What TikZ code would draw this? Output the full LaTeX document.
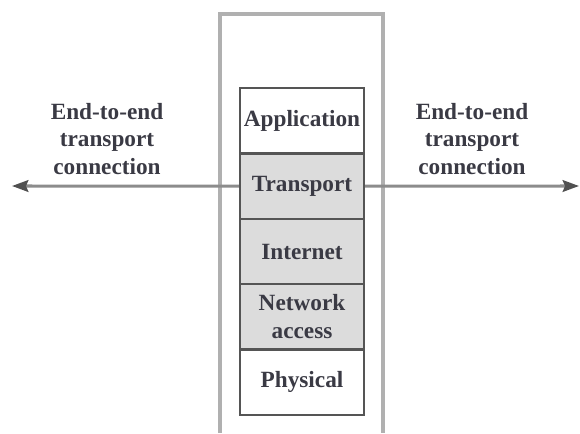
\documentclass[tikz,border=0pt]{standalone}
\usepackage{fontspec}
\setmainfont{Liberation Serif}[BoldFont={* Bold}]
\usetikzlibrary{arrows.meta}

\definecolor{layergray}{HTML}{DCDCDC}
\definecolor{linegray}{HTML}{555555}
\definecolor{hostgray}{HTML}{B0B0B0}
\definecolor{arrowgray}{HTML}{8C8C8C}
\definecolor{tipgray}{HTML}{505050}
\definecolor{textgray}{HTML}{3A3A44}

\tikzset{%
  every layer/.style={
    rectangle,
    draw=linegray,
    line width=1pt,
    fill=white,
    minimum width=53.3pt,
    minimum height=28.1pt,
    inner sep=0pt,
    align=center,
    text=textgray,
    font=\rmfamily\bfseries
  },
  layer shaded/.style={
    fill=layergray
  },
  every label/.style={
    align=center,
    text=textgray,
    font=\rmfamily\bfseries
  },
  connection/.style={
    draw=arrowgray,
    line width=1.3pt
  },
}

\begin{document}
\begin{tikzpicture}[x=0.43pt, y=-0.43pt,
    >={Stealth[length=7pt, width=5pt, inset=1pt, color=tipgray]}]

\useasboundingbox (0,0) rectangle (580,433);

% host box, open at the bottom
\draw [hostgray, line width=1.3pt] (220,433) -- (220,14) -- (383,14) -- (383,433);

\foreach \m/\l/\s [count=\y] in {application/Application/plain,
    transport/Transport/shaded, internet/Internet/shaded,
    netaccess/Network\\access/shaded, physical/Physical/plain}
  \node [every layer/.try, layer \s/.try] (\m) at (302,55.3+\y*65.4) {\l};

\coordinate (left end) at (12,186);
\coordinate (right end) at (579,186);

\draw [connection, ->] (transport.west) -- (left end);
\draw [connection, ->] (transport.east) -- (right end);

\node [every label/.try] (left label) at (107,139) {End-to-end\\transport\\connection};
\node [every label/.try] (right label) at (472,139) {End-to-end\\transport\\connection};

\end{tikzpicture}
\end{document}
